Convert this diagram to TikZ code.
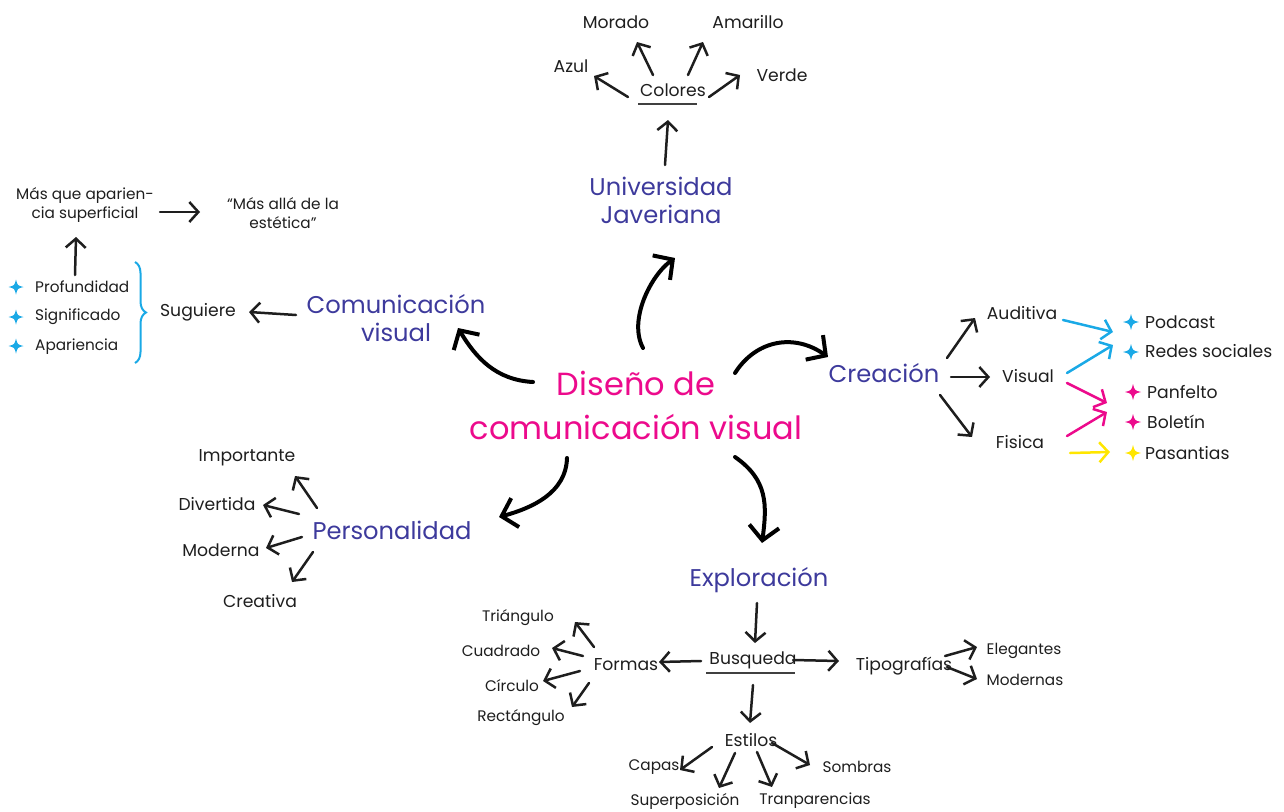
\documentclass[tikz,border=0pt]{standalone}
\usepackage{fontspec}
\setmainfont{Poppins}
\usetikzlibrary{arrows.meta,decorations.pathreplacing}
\definecolor{mag}{HTML}{EC0A8C}
\definecolor{ind}{HTML}{3D3A9C}
\definecolor{cy}{HTML}{1AA9E6}
\definecolor{yel}{HTML}{FFE600}
\definecolor{ink}{HTML}{1E1E1E}
\tikzset{
  lbl/.style={inner sep=0pt, text=ink, font=\fontsize{17.2}{21}\selectfont, align=center},
  sm/.style={inner sep=0pt, text=ink, font=\fontsize{15.3}{19}\selectfont, align=center},
  head/.style={inner sep=0pt, text=ind, font=\fontsize{24.2}{28}\selectfont, align=center},
  mainnode/.style={inner sep=0pt, text=mag, font=\fontsize{32}{44}\selectfont, align=center},
  arr/.style={draw=ink, line width=2.5pt, line cap=round, -{Straight Barb[length=9pt,width=20pt]}},
  carr/.style={arr, draw=#1},
  bigarr/.style={draw=black, line width=4pt, line cap=round, -{Straight Barb[length=14pt,width=30pt]}},
  uline/.style={draw=ink!85, line width=1.2pt},
  star4/.pic={\fill (0,-1) .. controls (0.2,-0.2) .. (1,0) .. controls (0.2,0.2) .. (0,1) .. controls (-0.2,0.2) .. (-1,0) .. controls (-0.2,-0.2) .. (0,-1) -- cycle;}
}
\begin{document}
\begin{tikzpicture}[x=1pt,y=-1pt]
\useasboundingbox (0,0) rectangle (1284,811);
% main
\node[mainnode] (main) at (636,405) {Diseño de\\comunicación visual};
% top branch
\node[head] (univ) at (661,200) {Universidad\\Javeriana};
\node[lbl] (colores) at (673,90) {Colores};
\node[lbl] (morado) at (616,22) {Morado};
\node[lbl] (amarillo) at (748,22) {Amarillo};
\node[lbl] (azul) at (571,66) {Azul};
\node[lbl] (verde) at (782,75) {Verde};
\draw[uline] ([shift={(-35,14)}]colores.center) -- ([shift={(24,14)}]colores.center);
\draw[arr] ([shift={(-45,7)}]colores.center) -- ([shift={(23,10)}]azul.center);
\draw[arr] ([shift={(-20,-15)}]colores.center) -- ([shift={(21,20)}]morado.center);
\draw[arr] ([shift={(15,-15)}]colores.center) -- ([shift={(-45,20)}]amarillo.center);
\draw[arr] ([shift={(36,7)}]colores.center) -- ([shift={(-42,0)}]verde.center);
\draw[arr] ([shift={(4,-35)}]univ.center) -- ([shift={(-5,30)}]colores.center);
\draw[bigarr] ([shift={(7,-57)}]main.center) .. controls ([shift={(-8,-85)}]main.center) and ([shift={(-10,75)}]univ.center) .. ([shift={(14,58)}]univ.center);
% left top branch
\node[head] (comvis) at (396,318) {Comunicación\\visual};
\node[lbl] (sug) at (198,312) {Suguiere};
\draw[arr] ([shift={(-100,-3)}]comvis.center) -- ([shift={(51,0)}]sug.center);
\draw[bigarr] ([shift={(-103,-23)}]main.center) .. controls ([shift={(-140,-25)}]main.center) and ([shift={(80,40)}]comvis.center) .. ([shift={(62,10)}]comvis.center);
\draw[cy, line width=2pt, decorate, decoration={brace, amplitude=11pt}] (135,262) -- (135,363);
\node[sm, anchor=west] (prof) at (35,287) {Profundidad};
\node[sm, anchor=west] (sig) at (35,317) {Significado};
\node[sm, anchor=west] (apa) at (35,347) {Apariencia};
\foreach \yy in {287,317,346} \pic[cy, scale=7.5] at (16,\yy) {star4};
\node[sm] (masque) at (85,205) {Más que aparien-\\cia superficial};
\node[sm] (masalla) at (283,213) {“Más allá de la\\estética”};
\draw[arr] ([shift={(40,-12)}]prof.west) -- ([shift={(-9,32)}]masque.center);
\draw[arr] ([shift={(75,7)}]masque.center) -- ([shift={(-83,-1)}]masalla.center);
% right branch
\node[head] (crea) at (884,373) {Creación};
\draw[bigarr] ([shift={(99,-32)}]main.center) .. controls ([shift={(120,-65)}]main.center) and ([shift={(-90,-40)}]crea.center) .. ([shift={(-56,-16)}]crea.center);
\node[lbl] (aud) at (1022,313) {Auditiva};
\node[lbl] (vis) at (1028,376) {Visual};
\node[lbl] (fis) at (1020,442) {Fisica};
\draw[arr] ([shift={(63,-15)}]crea.center) -- ([shift={(-47,5)}]aud.center);
\draw[arr] ([shift={(67,4)}]crea.center) -- ([shift={(-38,1)}]vis.center);
\draw[arr] ([shift={(56,22)}]crea.center) -- ([shift={(-48,-5)}]fis.center);
\node[lbl, anchor=west] (podcast) at (1145,322) {Podcast};
\node[lbl, anchor=west] (redes) at (1145,351) {Redes sociales};
\node[lbl, anchor=west] (panf) at (1147,392) {Panfelto};
\node[lbl, anchor=west] (bol) at (1147,422) {Boletín};
\node[lbl, anchor=west] (pas) at (1145,453) {Pasantias};
\pic[cy, scale=8] at (1131,322) {star4};
\pic[cy, scale=8] at (1131,352) {star4};
\pic[mag, scale=8] at (1133,392) {star4};
\pic[mag, scale=8] at (1133,422) {star4};
\pic[yel, scale=8] at (1133,453) {star4};
\draw[carr=cy] ([shift={(41,7)}]aud.center) -- ([shift={(-32,10)}]podcast.west);
\draw[carr=cy] ([shift={(39,-3)}]vis.center) -- ([shift={(-32,-6)}]redes.west);
\draw[carr=mag] ([shift={(39,7)}]vis.center) -- ([shift={(-40,11)}]panf.west);
\draw[carr=mag] ([shift={(47,-6)}]fis.center) -- ([shift={(-40,-10)}]bol.west);
\draw[carr=yel] ([shift={(50,11)}]fis.center) -- ([shift={(-35,-1)}]pas.west);
% lower left branch
\node[head] (pers) at (392,530) {Personalidad};
\draw[bigarr] ([shift={(-69,53)}]main.center) .. controls ([shift={(-70,88)}]main.center) and ([shift={(140,-22)}]pers.center) .. ([shift={(107,-13)}]pers.center);
\node[lbl] (imp) at (247,458) {Importante};
\node[lbl] (div) at (217,504) {Divertida};
\node[lbl] (mod) at (221,550) {Moderna};
\node[lbl] (cre) at (260,601) {Creativa};
\draw[arr] ([shift={(-75,-22)}]pers.center) -- ([shift={(48,18)}]imp.center);
\draw[arr] ([shift={(-93,-16)}]pers.center) -- ([shift={(46,1)}]div.center);
\draw[arr] ([shift={(-90,7)}]pers.center) -- ([shift={(45,-2)}]mod.center);
\draw[arr] ([shift={(-79,22)}]pers.center) -- ([shift={(32,-19)}]cre.center);
% lower right branch
\node[head] (expl) at (759,580) {Exploración};
\draw[bigarr] ([shift={(99,52)}]main.center) .. controls ([shift={(132,75)}]main.center) and ([shift={(8,-75)}]expl.center) .. ([shift={(3,-37)}]expl.center);
\node[lbl] (busq) at (753,660) {Busqueda};
\draw[uline] ([shift={(-47,13)}]busq.center) -- ([shift={(42,13)}]busq.center);
\draw[arr] ([shift={(-2,23)}]expl.center) -- ([shift={(2,-17)}]busq.center);
\node[lbl] (formas) at (626,665) {Formas};
\node[lbl] (tipo) at (904,666) {Tipografías};
\node[lbl] (est) at (751,740) {Estilos};
\draw[arr] ([shift={(-52,1)}]busq.center) -- ([shift={(33,-3)}]formas.center);
\draw[arr] ([shift={(40,0)}]busq.center) -- ([shift={(-65,-5)}]tipo.center);
\draw[arr] ([shift={(0,25)}]busq.center) -- ([shift={(-1,-17)}]est.center);
\node[sm] (tri) at (518,618) {Triángulo};
\node[sm] (cua) at (501,651) {Cuadrado};
\node[sm] (cir) at (512,686) {Círculo};
\node[sm] (rec) at (521,718) {Rectángulo};
\draw[arr] ([shift={(-32,-18)}]formas.center) -- ([shift={(57,4)}]tri.center);
\draw[arr] ([shift={(-43,-9)}]formas.center) -- ([shift={(51,-3)}]cua.center);
\draw[arr] ([shift={(-46,6)}]formas.center) -- ([shift={(31,-5)}]cir.center);
\draw[arr] ([shift={(-37,18)}]formas.center) -- ([shift={(51,-11)}]rec.center);
\node[sm] (eleg) at (1024,651) {Elegantes};
\node[sm] (modn) at (1025,680) {Modernas};
\draw[arr] ([shift={(41,-10)}]tipo.center) -- ([shift={(-47,-4)}]eleg.center);
\draw[arr] ([shift={(43,1)}]tipo.center) -- ([shift={(-48,-1)}]modn.center);
\node[sm] (capas) at (654,767) {Capas};
\node[sm] (sup) at (685,801) {Superposición};
\node[sm] (tran) at (815,801) {Tranparencias};
\node[sm] (somb) at (857,767) {Sombras};
\draw[arr] ([shift={(-39,7)}]est.center) -- ([shift={(26,3)}]capas.center);
\draw[arr] ([shift={(-16,13)}]est.center) -- ([shift={(34,-13)}]sup.center);
\draw[arr] ([shift={(6,12)}]est.center) -- ([shift={(-43,-14)}]tran.center);
\draw[arr] ([shift={(21,3)}]est.center) -- ([shift={(-47,-2)}]somb.center);
\end{tikzpicture}
\end{document}
